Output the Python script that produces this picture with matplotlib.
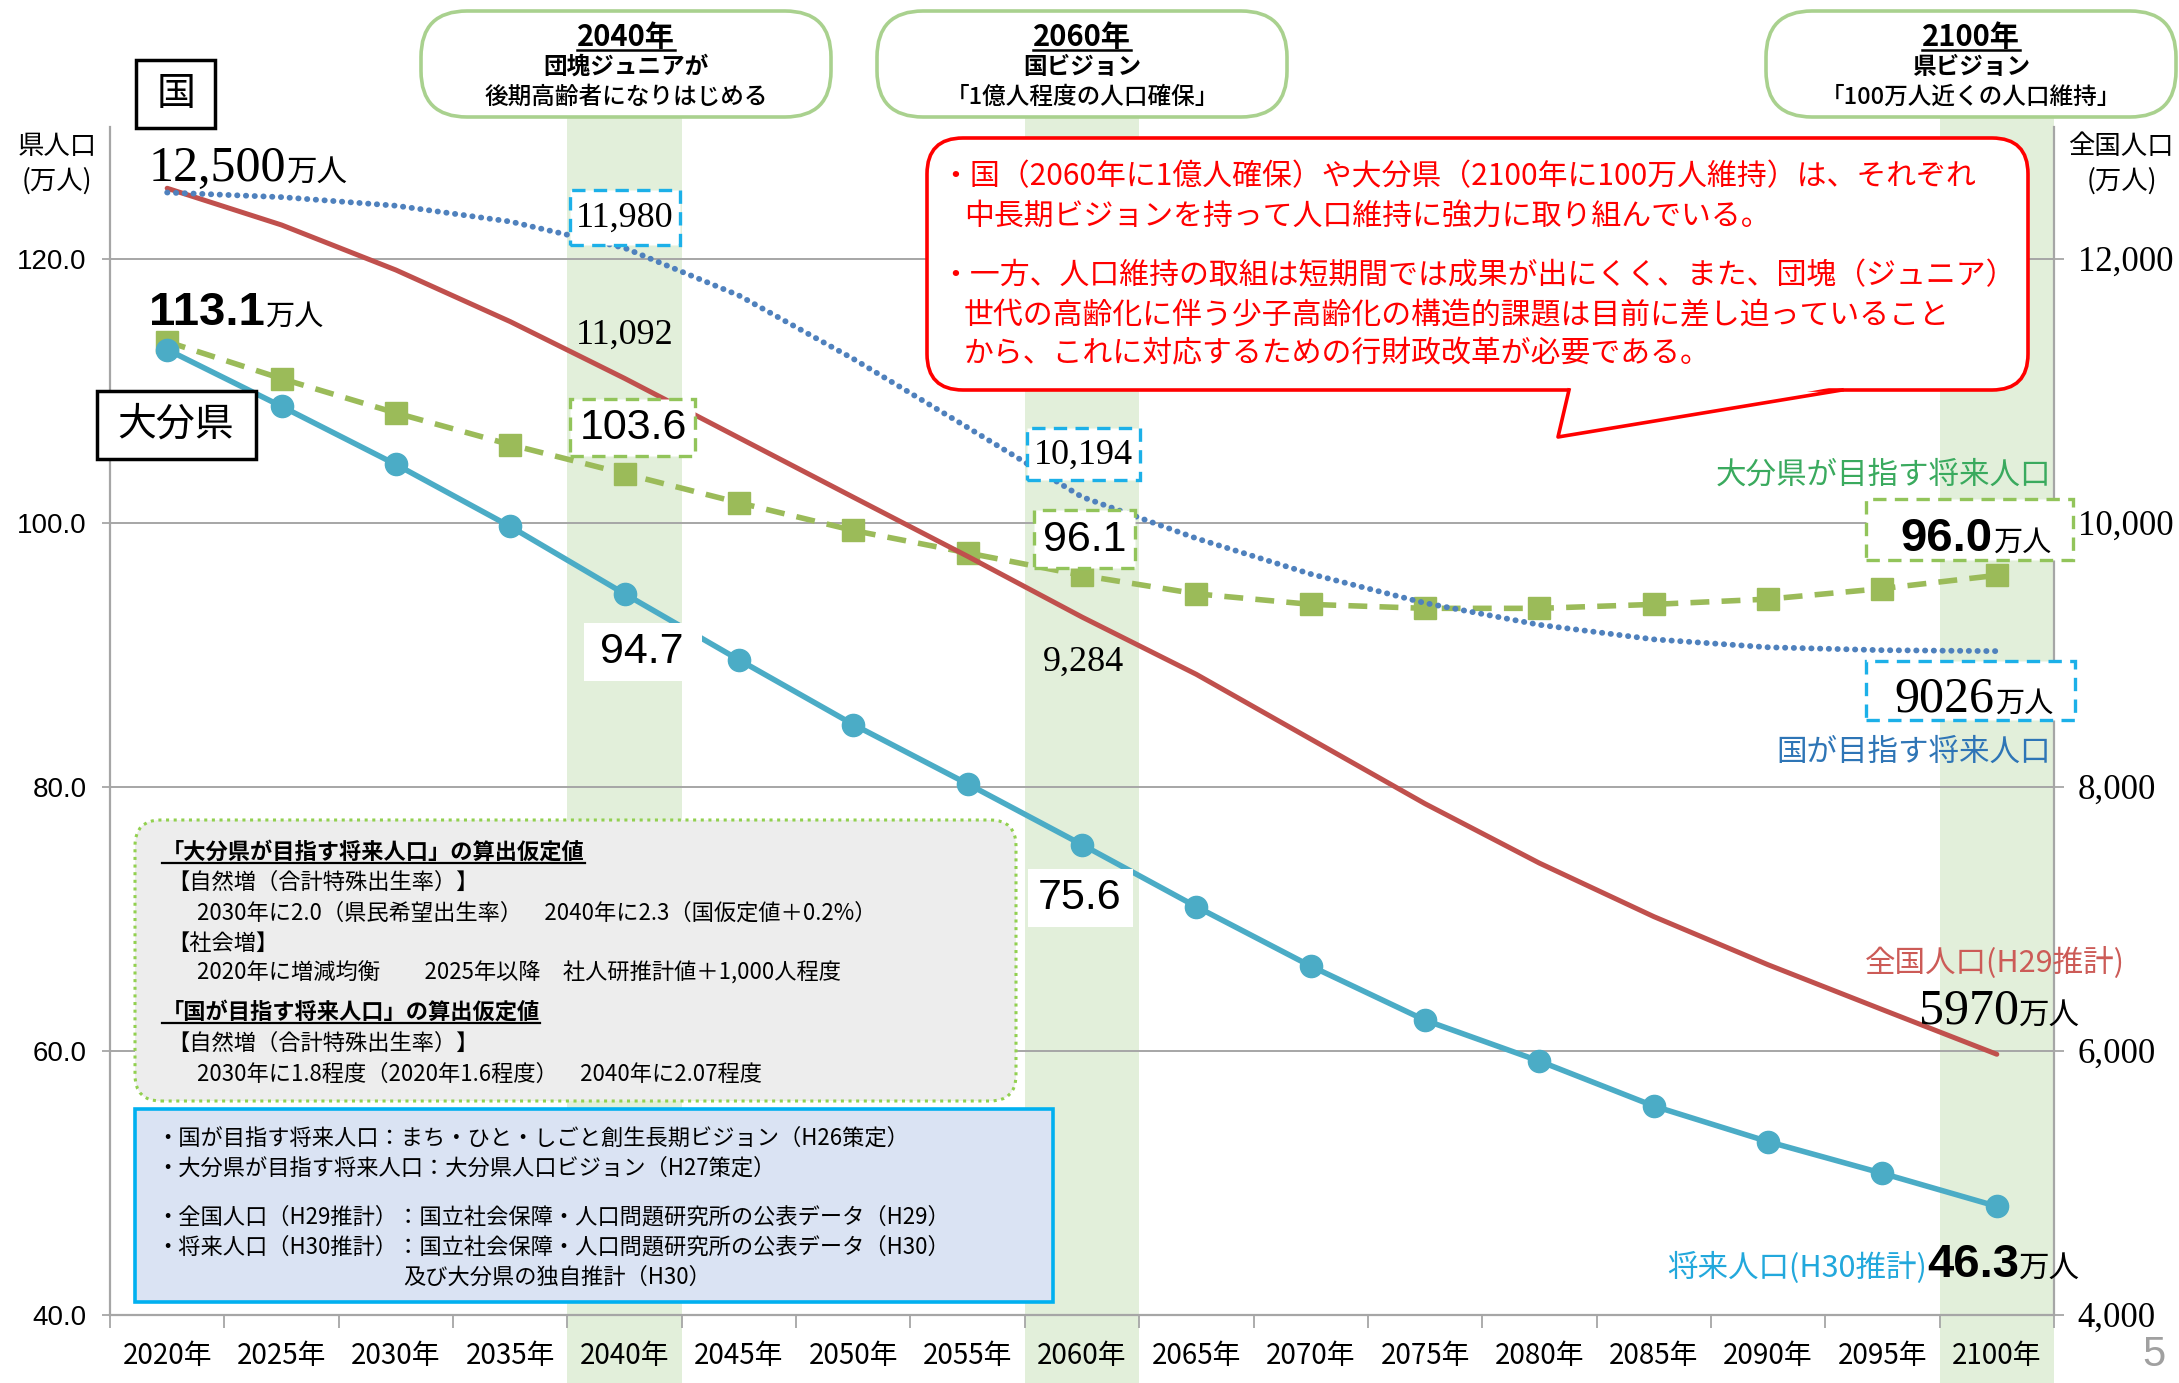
import numpy as np
import matplotlib
matplotlib.use("Agg")
import matplotlib.pyplot as plt
import matplotlib.transforms as mtransforms
from matplotlib.patches import FancyBboxPatch, Rectangle, Polygon
from matplotlib.lines import Line2D

# ---------------- data ----------------
years = list(range(2020, 2101, 5))
year_labels = [f"{y}年" for y in years]
oita_projection = [113.1, 108.8, 104.4, 99.7, 94.6, 89.6, 84.7, 80.2, 75.6,
                   70.9, 66.4, 62.3, 59.2, 55.8, 53.1, 50.7, 48.2]
oita_target = [113.7, 110.9, 108.3, 105.9, 103.7, 101.5, 99.4, 97.7, 96.0,
               94.6, 93.8, 93.5, 93.5, 93.8, 94.2, 95.0, 96.0]
national_h29 = [12532, 12254, 11913, 11522, 11092, 10642, 10192, 9744, 9284,
                8850, 8360, 7870, 7420, 7015, 6650, 6310, 5972]
national_target = [12500, 12465, 12400, 12280, 12080, 11720, 11240, 10720, 10194,
                   9880, 9610, 9390, 9225, 9115, 9055, 9033, 9026]
highlight_years = [2040, 2060, 2100]
left_ticks = [40, 60, 80, 100, 120]
right_ticks = [4000, 6000, 8000, 10000, 12000]

# ---------------- style ----------------
JP = ['Noto Sans CJK JP', 'DejaVu Sans']
SERIF = ['Liberation Serif', 'DejaVu Serif']
SANS = ['Liberation Sans', 'DejaVu Sans']
plt.rcParams['font.family'] = JP

C_BLUE = '#4BACC6'
C_GREEN = '#9BBB59'
C_RED = '#C0504D'
C_DOT = '#4F81BD'
BAND = '#E2EFDA'
GRID = '#A6A6A6'

W, H = 2179, 1383
fig = plt.figure(figsize=(W / 100, H / 100), dpi=100)
fig.patch.set_facecolor('white')

y_bot, y_top = 1314.6, 126.5
ax = fig.add_axes([110 / W, 1 - y_bot / H, (2054 - 110) / W, (y_bot - y_top) / H])
x = np.arange(len(years))
ax.set_xlim(-0.5, len(years) - 0.5)
ax.set_ylim(40, 130)

# highlight bands (extend from figure bottom up to the top boxes)
btrans = mtransforms.blended_transform_factory(ax.transData, fig.transFigure)
for hy in highlight_years:
    i = years.index(hy)
    r = Rectangle((i - 0.5, 0), 1, 1 - 112 / H, transform=btrans, fc=BAND,
                  ec='none', zorder=0.1, clip_on=False)
    ax.add_artist(r)

ax.set_axisbelow(True)
ax.yaxis.grid(True, color=GRID, lw=1.4)
ax.set_yticks(left_ticks)
ax.set_yticklabels([f"{v:.1f}" for v in left_ticks], fontfamily=SANS, fontsize=20)
ax.tick_params(axis='y', length=6, width=1.3, color=GRID, pad=11)

ax.set_xticks(np.arange(-0.5, len(years), 1))
ax.set_xticklabels([])
ax.set_xticks(x, minor=True)
ax.set_xticklabels(year_labels, minor=True, fontsize=20)
ax.tick_params(axis='x', which='major', length=9, width=1.3, color=GRID)
ax.tick_params(axis='x', which='minor', length=0, pad=19)

for s in ['top', 'right']:
    ax.spines[s].set_visible(False)
for s in ['left', 'bottom']:
    ax.spines[s].set_color(GRID)
    ax.spines[s].set_linewidth(1.6)

ax.plot(x, oita_target, color=C_GREEN, lw=4, ls=(0, (3.4, 2.2)), marker='s', ms=16,
        zorder=3)
ax.plot(x, oita_projection, color=C_BLUE, lw=4, marker='o', ms=16, zorder=4)

ax2 = ax.twinx()
ax2.set_ylim(4000, 13000)
ax2.set_yticks(right_ticks)
ax2.set_yticklabels([f"{v:,}" for v in right_ticks], fontfamily=SERIF, fontsize=25)
ax2.tick_params(axis='y', length=7, width=1.3, color=GRID, pad=10)
for s in ['top', 'left', 'bottom']:
    ax2.spines[s].set_visible(False)
ax2.spines['right'].set_color(GRID)
ax2.spines['right'].set_linewidth(1.6)

ax2.plot(x, national_h29, color=C_RED, lw=3.6, solid_capstyle='round', zorder=3)
ax2.plot(x, national_target, color=C_DOT, lw=4.2, ls=(0, (0.05, 1.45)),
         dash_capstyle='round', solid_joinstyle='round', zorder=3)

# ---------------- annotation helpers (pixel coords, origin top-left) ----------------
R = fig.canvas.get_renderer()
T = fig.dpi_scale_trans


def P(px, py):
    return px / 100.0, (H - py) / 100.0


def txt(px, py, s, **kw):
    kw.setdefault('zorder', 10)
    return fig.text(*P(px, py), s, transform=T, **kw)


def rbox(x0, y0, x1, y1, r, **kw):
    kw.setdefault('zorder', 6)
    p = FancyBboxPatch(P(x0, y1), (x1 - x0) / 100, (y1 - y0) / 100,
                       boxstyle=f"round,pad=0,rounding_size={r / 100}",
                       transform=T, **kw)
    fig.add_artist(p)
    return p


def rect(x0, y0, x1, y1, **kw):
    kw.setdefault('zorder', 6)
    p = Rectangle(P(x0, y1), (x1 - x0) / 100, (y1 - y0) / 100, transform=T, **kw)
    fig.add_artist(p)
    return p


def underline(t, color='black', lw=1.8, off=1):
    bb = t.get_window_extent(R)
    yy = (bb.y0 + off) / 100
    fig.add_artist(Line2D([bb.x0 / 100, bb.x1 / 100], [yy, yy], transform=T,
                          color=color, lw=lw, zorder=11))


def compound(xpos, yb, parts, align='left'):
    ts = [txt(0, yb, s, ha='left', va='baseline', **kw) for s, kw in parts]
    ws = [t.get_window_extent(R).width for t in ts]
    cur = xpos - sum(ws) if align == 'right' else xpos
    for t, w in zip(ts, ws):
        t.set_position(P(cur, yb))
        cur += w
    return ts


# ---------------- top boxes ----------------
tops = [((421, 831), "2040年", "団塊ジュニアが", "後期高齢者になりはじめる"),
        ((877, 1287), "2060年", "国ビジョン", "「1億人程度の人口確保」"),
        ((1766, 2176), "2100年", "県ビジョン", "「100万人近くの人口維持」")]
for (bx0, bx1), t1, t2, t3 in tops:
    rbox(bx0, 11, bx1, 117, 46, fc='white', ec='#A9D18E', lw=2.6)
    cx = (bx0 + bx1) / 2
    a = txt(cx, 37, t1, ha='center', va='center', fontsize=21, fontweight='bold')
    underline(a, lw=1.8, off=2)
    txt(cx, 67, t2, ha='center', va='center', fontsize=17, fontweight='bold')
    txt(cx, 97, t3, ha='center', va='center', fontsize=17, fontweight='medium')

# ---------------- axis titles ----------------
txt(57, 146, "県人口", ha='center', va='center', fontsize=19)
txt(57, 181, "(万人)", ha='center', va='center', fontsize=19)
txt(2068, 146, "全国人口", ha='left', va='center', fontsize=19)
txt(2122, 181, "(万人)", ha='center', va='center', fontsize=19)

# ---------------- boxed titles ----------------
rect(136, 60, 215, 128, fc='white', ec='black', lw=2.5)
txt(176, 94, "国", ha='center', va='center', fontsize=28)
rect(97, 391, 256, 459, fc='white', ec='black', lw=2.5)
txt(176, 425, "大分県", ha='center', va='center', fontsize=28)

# ---------------- start values ----------------
compound(149, 181, [("12,500", dict(fontfamily=SERIF, fontsize=36)),
                    ("万人", dict(fontsize=22))])
compound(149, 325, [("113.1", dict(fontfamily=SANS, fontsize=34, fontweight='bold')),
                    ("万人", dict(fontsize=21))])

# ---------------- value labels ----------------
GREEN_EDGE = '#92C45A'
CYAN_EDGE = '#1CB0E8'
rect(570, 190, 680, 245, fc='white', ec=CYAN_EDGE, lw=2.4, ls=(0, (4, 2.5)))
txt(625, 218, "11,980", ha='center', va='center', fontfamily=SERIF, fontsize=26)
txt(625, 335, "11,092", ha='center', va='center', fontfamily=SERIF, fontsize=26)
rect(570, 399, 695, 456, fc='white', ec=GREEN_EDGE, lw=2.4, ls=(0, (4, 2.5)))
txt(633, 428, "103.6", ha='center', va='center', fontfamily=SANS, fontsize=31)
rect(584, 623, 702, 681, fc='white', ec='none')
txt(642, 652, "94.7", ha='center', va='center', fontfamily=SANS, fontsize=31)

rect(1027, 428, 1140, 480, fc='white', ec=CYAN_EDGE, lw=2.4, ls=(0, (4, 2.5)))
txt(1083, 455, "10,194", ha='center', va='center', fontfamily=SERIF, fontsize=26)
rect(1034, 510, 1135, 568, fc='white', ec=GREEN_EDGE, lw=2.4, ls=(0, (4, 2.5)))
txt(1085, 540, "96.1", ha='center', va='center', fontfamily=SANS, fontsize=31)
txt(1083, 662, "9,284", ha='center', va='center', fontfamily=SERIF, fontsize=26)
rect(1028, 869, 1133, 927, fc='white', ec='none')
txt(1080, 898, "75.6", ha='center', va='center', fontfamily=SANS, fontsize=31)

# ---------------- right-side labels ----------------
txt(2051, 475, "大分県が目指す将来人口", ha='right', va='center', fontsize=22,
    color='#3AAA5E')
rect(1866, 499, 2073, 560, fc='white', ec=GREEN_EDGE, lw=2.4, ls=(0, (4, 2.5)))
compound(2051, 551, [("96.0", dict(fontfamily=SANS, fontsize=34, fontweight='bold')),
                     ("万人", dict(fontsize=21))], align='right')
rect(1866, 661, 2075, 720, fc='white', ec=CYAN_EDGE, lw=2.4, ls=(0, (4, 2.5)))
compound(2053, 712, [("9026", dict(fontfamily=SERIF, fontsize=36)),
                     ("万人", dict(fontsize=21))], align='right')
txt(2051, 752, "国が目指す将来人口", ha='right', va='center', fontsize=22,
    color='#2E75B6')
txt(1865, 963, "全国人口(H29推計)", ha='left', va='center', fontsize=22,
    color='#CC5B57')
compound(2080, 1024, [("5970", dict(fontfamily=SERIF, fontsize=36)),
                      ("万人", dict(fontsize=22))], align='right')
compound(2080, 1277, [("将来人口(H30推計)", dict(fontsize=22, color='#22A8DC')),
                      ("46.3", dict(fontfamily=SANS, fontsize=34, fontweight='bold')),
                      ("万人", dict(fontsize=22))], align='right')

# ---------------- red callout ----------------
RED = '#FF0000'
rbox(927, 138, 2028, 390, 36, fc='white', ec=RED, lw=2.6, zorder=6)
fig.add_artist(Polygon([P(1571, 386), P(1558, 437), P(1840, 386)], closed=True,
                       transform=T, fc='white', ec='none', zorder=7))
fig.add_artist(Line2D([P(1569, 390)[0], P(1558, 437)[0], P(1842, 390)[0]],
                      [P(1569, 390)[1], P(1558, 437)[1], P(1842, 390)[1]],
                      transform=T, color=RED, lw=2.6, zorder=8))
call_lines = [
    (940, 177, "・国（2060年に1億人確保）や大分県（2100年に100万人維持）は、それぞれ"),
    (964, 216, "中長期ビジョンを持って人口維持に強力に取り組んでいる。"),
    (940, 276, "・一方、人口維持の取組は短期間では成果が出にくく、また、団塊（ジュニア）"),
    (964, 316, "世代の高齢化に伴う少子高齢化の構造的課題は目前に差し迫っていること"),
    (964, 354, "から、これに対応するための行財政改革が必要である。"),
]
for lx, ly, s in call_lines:
    txt(lx, ly, s, ha='left', va='center', fontsize=21.5, color=RED)

# ---------------- assumption box ----------------
rbox(135, 820, 1016, 1101, 26, fc='#EDEDED', ec='#92D050', lw=2.2, ls=(0, (1, 1.5)))
t = txt(162, 852, "「大分県が目指す将来人口」の算出仮定値", ha='left', va='center',
        fontsize=16, fontweight='bold')
underline(t, lw=1.6)
gray_lines = [
    (167, 882, "【自然増（合計特殊出生率）】"),
    (197, 913, "2030年に2.0（県民希望出生率）　2040年に2.3（国仮定値＋0.2%）"),
    (167, 943, "【社会増】"),
    (197, 973, "2020年に増減均衡　　2025年以降　社人研推計値＋1,000人程度"),
    (167, 1043, "【自然増（合計特殊出生率）】"),
    (197, 1074, "2030年に1.8程度（2020年1.6程度）　2040年に2.07程度"),
]
for lx, ly, s in gray_lines:
    txt(lx, ly, s, ha='left', va='center', fontsize=16)
t = txt(162, 1012, "「国が目指す将来人口」の算出仮定値", ha='left', va='center',
        fontsize=16, fontweight='bold')
underline(t, lw=1.6)

# ---------------- sources box ----------------
rect(135, 1109, 1053, 1302, fc='#DAE3F3', ec='#00B0F0', lw=2.6)
src_lines = [
    (156, 1138, "・国が目指す将来人口：まち・ひと・しごと創生長期ビジョン（H26策定）"),
    (156, 1168, "・大分県が目指す将来人口：大分県人口ビジョン（H27策定）"),
    (156, 1217, "・全国人口（H29推計）：国立社会保障・人口問題研究所の公表データ（H29）"),
    (156, 1247, "・将来人口（H30推計）：国立社会保障・人口問題研究所の公表データ（H30）"),
    (403, 1277, "及び大分県の独自推計（H30）"),
]
for lx, ly, s in src_lines:
    txt(lx, ly, s, ha='left', va='center', fontsize=16)

# page number
txt(2154, 1355, "5", ha='center', va='center', fontsize=30, color='#A0A0A0',
    fontfamily=SANS)

fig.savefig("out.png", dpi=100)
